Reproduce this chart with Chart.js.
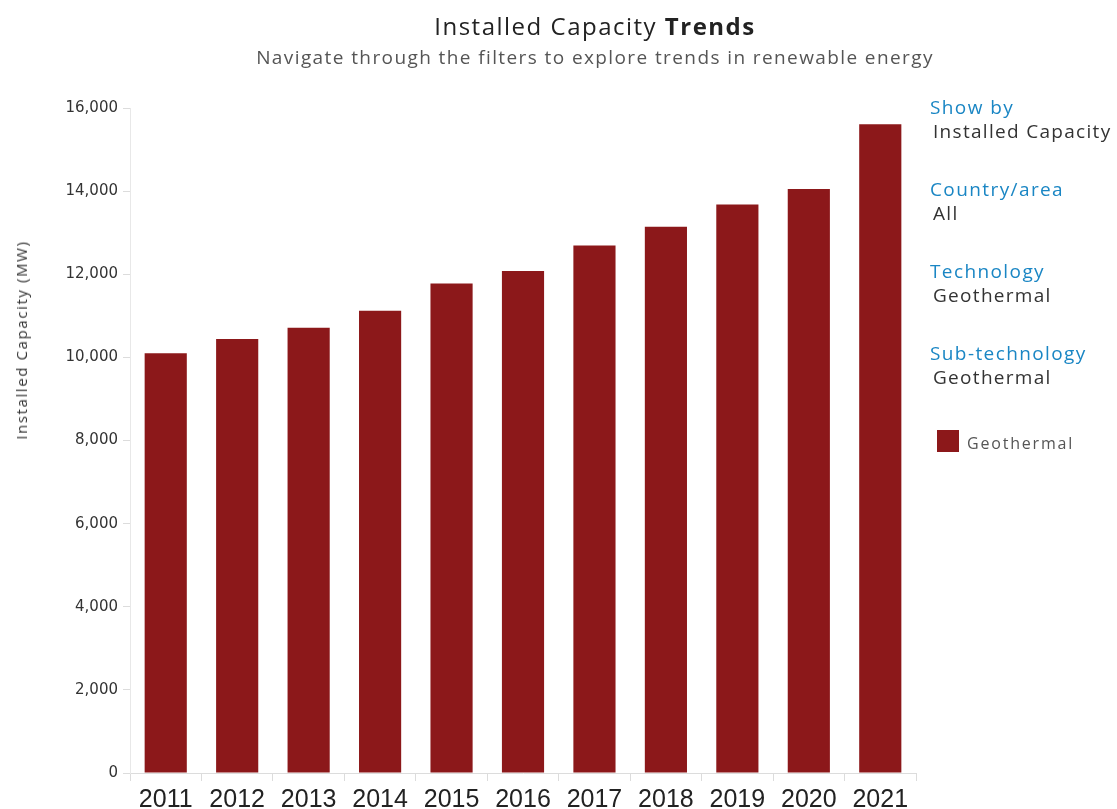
<!DOCTYPE html>
<html>
<head>
<meta charset="utf-8">
<script src="https://cdn.jsdelivr.net/npm/chart.js@4"></script>
<style>
  html, body { margin: 0; padding: 0; background: #fff; }
  body { width: 1117px; height: 809px; position: relative; overflow: hidden; font-family: "Open Sans", sans-serif; }
  #wrap { position: absolute; left: 0; top: 0; width: 1117px; height: 809px; }
  .title { position: absolute; top: 9px; left: 0; width: 1190px; text-align: center; font-size: 24px; letter-spacing: 1.5px; color: #222; }
  .subtitle { position: absolute; top: 44px; left: 0; width: 1190px; text-align: center; font-size: 19px; letter-spacing: 1.4px; color: #555; }
  .ytitle { position: absolute; left: 21px; top: 340px; transform: translate(-50%, -50%) rotate(-90deg); white-space: nowrap; font-size: 15px; letter-spacing: 1.6px; color: #333; }
  .panel { position: absolute; left: 930px; top: 95px; }
  .panel .lbl { color: #1a86c4; font-size: 19px; letter-spacing: 1.4px; line-height: 24px; }
  .panel .val { color: #333; font-size: 19px; letter-spacing: 1.3px; line-height: 24px; padding-left: 3px; margin-bottom: 34px; }
  .legend { position: absolute; left: 937px; top: 428px; display: flex; align-items: center; }
  .legend .sw { width: 22px; height: 22px; margin-right: 8px; }
  .legend .tx { color: #555; font-size: 16px; letter-spacing: 1.8px; margin-top: 4px; }
</style>
</head>
<body>
<div id="wrap"><canvas id="chart" width="1117" height="809"></canvas></div>
<div class="title">Installed Capacity <b>Trends</b></div>
<div class="subtitle">Navigate through the filters to explore trends in renewable energy</div>
<div class="ytitle">Installed Capacity (MW)</div>
<div class="panel" id="panel"></div>
<div class="legend" id="legend"></div>
<script>
// Chart data
const years = ['2011', '2012', '2013', '2014', '2015', '2016', '2017', '2018', '2019', '2020', '2021'];
const geothermal = [10100, 10440, 10710, 11120, 11780, 12080, 12690, 13140, 13680, 14050, 15610];
const yTicks = [0, 2000, 4000, 6000, 8000, 10000, 12000, 14000, 16000];

// Filter panel on the right
const filterLabels = ['Show by', 'Country/area', 'Technology', 'Sub-technology'];
const filterValues = ['Installed Capacity', 'All', 'Geothermal', 'Geothermal'];

const barColor = '#8c181a';

const panel = document.getElementById('panel');
filterLabels.forEach((l, i) => {
  const a = document.createElement('div');
  a.className = 'lbl';
  a.textContent = l;
  const b = document.createElement('div');
  b.className = 'val';
  b.textContent = filterValues[i];
  panel.appendChild(a);
  panel.appendChild(b);
});

const ctx = document.getElementById('chart');
const chart = new Chart(ctx, {
  type: 'bar',
  data: {
    labels: years,
    datasets: [{
      label: 'Geothermal',
      data: geothermal,
      backgroundColor: barColor,
      borderWidth: 0,
      categoryPercentage: 1,
      barPercentage: 0.59
    }]
  },
  options: {
    responsive: false,
    animation: false,
    layout: { padding: { top: 108, right: 201, left: 0, bottom: 0 } },
    plugins: {
      legend: { display: false },
      tooltip: { enabled: false }
    },
    scales: {
      x: {
        afterFit: s => { s.height = 36; },
        grid: { display: true, drawOnChartArea: false, drawTicks: true, tickLength: 8, color: '#dcdcdc' },
        border: { display: true, color: '#dcdcdc' },
        ticks: { color: '#222', padding: 4, font: { family: 'Liberation Sans', size: 25 } }
      },
      y: {
        min: 0,
        max: 16000,
        afterFit: s => { s.width = 130; },
        afterBuildTicks: s => { s.ticks = yTicks.map(v => ({ value: v })); },
        grid: { display: true, drawOnChartArea: false, drawTicks: true, tickLength: 7, color: '#dcdcdc' },
        border: { display: true, color: '#e8e8e8' },
        ticks: {
          color: '#333',
          padding: 5,
          font: { family: 'DejaVu Sans', size: 15 },
          callback: v => v.toLocaleString('en-US')
        }
      }
    }
  }
});

// Legend built from the dataset
const legend = document.getElementById('legend');
chart.data.datasets.forEach(ds => {
  const sw = document.createElement('div');
  sw.className = 'sw';
  sw.style.background = ds.backgroundColor;
  const tx = document.createElement('div');
  tx.className = 'tx';
  tx.textContent = ds.label;
  legend.appendChild(sw);
  legend.appendChild(tx);
});
</script>
</body>
</html>
